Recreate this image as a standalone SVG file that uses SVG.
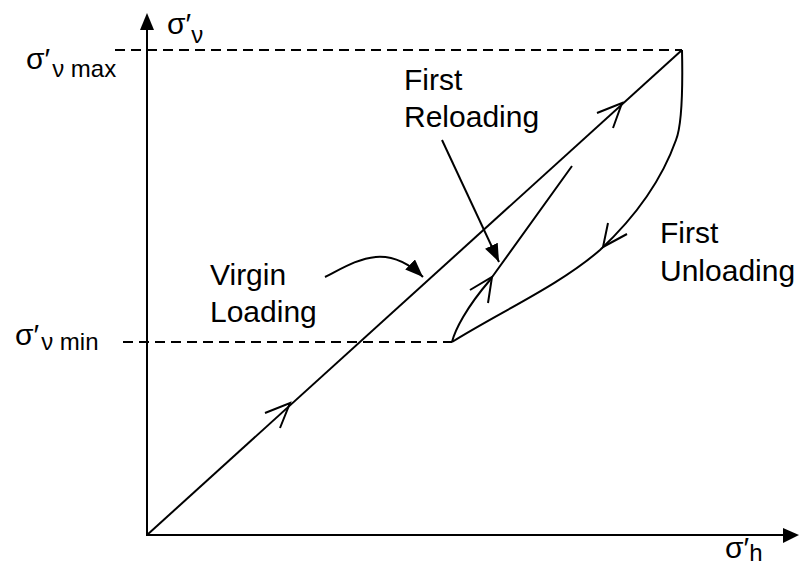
<svg xmlns="http://www.w3.org/2000/svg" width="802" height="567" viewBox="0 0 802 567">
<defs>
<style>
.ln{fill:none;stroke:#000;stroke-width:2;stroke-linejoin:miter}
.dash{fill:none;stroke:#000;stroke-width:2.2;stroke-dasharray:10 6}
.lbl{font-family:"Liberation Sans",Arial,"DejaVu Sans",sans-serif;font-size:30px;fill:#000}
.sg{font-family:"Liberation Sans",Arial,"DejaVu Sans",sans-serif;font-size:30px;fill:#000}
.sub{font-size:24px}
</style>
<marker id="fa" markerUnits="userSpaceOnUse" markerWidth="20" markerHeight="16" refX="18" refY="7" orient="auto">
<path d="M0,0 L18,7 L0,14 Z" fill="#000"/>
</marker>
</defs>
<rect width="802" height="567" fill="#fff"/>
<g id="axes">
<line class="ln" x1="147" y1="536" x2="147" y2="28"/>
<path d="M147,13 L140,30 L154,30 Z" fill="#000"/>
<line class="ln" x1="146" y1="535" x2="785" y2="535"/>
<path d="M799,535 L783,528 L783,543 Z" fill="#000"/>
</g>
<g id="labels">
<text class="sg" x="167" y="34">σ′<tspan class="sub" dy="9">ν</tspan></text>
<text class="sg" x="26" y="69">σ′<tspan class="sub" dy="8" dx="2">ν max</tspan></text>
<text class="sg" x="15" y="345">σ′<tspan class="sub" dy="5" dx="2">ν min</tspan></text>
<text class="sg" x="725" y="558">σ′<tspan class="sub" dy="3">h</tspan></text>
<text class="lbl" x="210" y="285">Virgin</text>
<text class="lbl" x="210" y="322">Loading</text>
<text class="lbl" x="404" y="90">First</text>
<text class="lbl" x="404" y="127">Reloading</text>
<text class="lbl" x="660" y="243">First</text>
<text class="lbl" x="660" y="281">Unloading</text>
</g>
<g id="connectors">
<line class="dash" x1="115" y1="50" x2="682" y2="50"/>
<line class="dash" x1="123" y1="342" x2="452" y2="342"/>
<path id="virgin" class="ln" d="M147,535 L682,50"/>
<path id="unloading" class="ln" d="M682,50 C683,95 682,125 676,140 C660,185 630,222 600,250 C560,285 500,312 452,342"/>
<path id="reloading" class="ln" d="M452,342 C455,330 466,308 490,280 L572,166"/>
<polyline class="ln" points="265,413 290,403 280,428"/>
<polyline class="ln" points="597,113 622,103 613,128"/>
<polyline class="ln" points="608,223 603,247 627,234"/>
<polyline class="ln" points="470,290 492,277 488,303"/>
<path class="ln" d="M442,140 L499,262" marker-end="url(#fa)"/>
<path class="ln" d="M325,277 C355,262 385,240 423,277" marker-end="url(#fa)"/>
</g>
</svg>
